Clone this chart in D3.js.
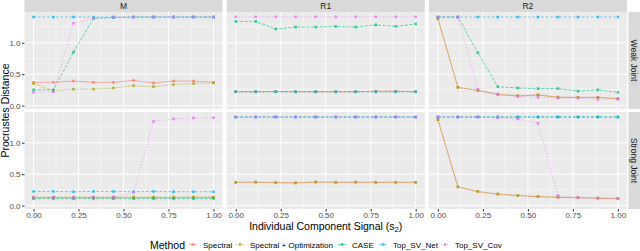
<!DOCTYPE html>
<html>
<head>
<meta charset="utf-8">
<script src="https://cdn.jsdelivr.net/npm/d3@7"></script>
<style>
  body { margin: 0; background: #fff; }
  svg { display: block; font-family: "Liberation Sans", Arial, sans-serif; }
</style>
</head>
<body>
<svg id="chart" width="640" height="251"></svg>
<script>
// data
const signal = [0, 0.111, 0.222, 0.333, 0.444, 0.556, 0.667, 0.778, 0.889, 1]
const methods = ["Spectral", "Spectral + Optimization", "CASE", "Top_SV_Net", "Top_SV_Cov"]
const colors = ["#F8766D", "#A3A500", "#00BF7D", "#00B0F6", "#E76BF3"]
const dashes = ["none", "1.5,1.5", "3,1.5", "2.5,2", "1,2"]
const columns = ["M", "R1", "R2"]
const rows = ["Weak Joint", "Strong Joint"]
const xTicks = [0, 0.25, 0.5, 0.75, 1]
const yTicks = [0, 0.5, 1]

// one array per panel, rows in methods order
const mWeak = [
  [0.37, 0.37, 0.39, 0.37, 0.37, 0.40, 0.36, 0.39, 0.39, 0.37],
  [0.35, 0.235, 0.26, 0.26, 0.28, 0.315, 0.30, 0.335, 0.35, 0.36],
  [0.25, 0.25, 0.85, 1.39, 1.40, 1.41, 1.41, 1.41, 1.41, 1.41],
  [1.41, 1.41, 1.41, 1.41, 1.41, 1.41, 1.41, 1.41, 1.41, 1.41],
  [0.21, 0.22, 1.31, 1.39, 1.41, 1.41, 1.41, 1.41, 1.41, 1.41]
]
const mStrong = [
  [0.125, 0.125, 0.125, 0.125, 0.125, 0.125, 0.125, 0.125, 0.13, 0.13],
  [0.135, 0.135, 0.135, 0.135, 0.135, 0.135, 0.135, 0.135, 0.135, 0.135],
  [0.11, 0.11, 0.11, 0.11, 0.11, 0.11, 0.11, 0.11, 0.11, 0.11],
  [0.225, 0.225, 0.22, 0.225, 0.225, 0.22, 0.225, 0.22, 0.22, 0.22],
  [0.13, 0.13, 0.13, 0.13, 0.13, 0.21, 1.34, 1.38, 1.395, 1.40]
]
const r1Weak = [
  [0.22, 0.22, 0.225, 0.22, 0.22, 0.22, 0.22, 0.23, 0.23, 0.22],
  [0.22, 0.22, 0.22, 0.22, 0.22, 0.22, 0.22, 0.22, 0.22, 0.22],
  [1.34, 1.34, 1.22, 1.25, 1.25, 1.26, 1.25, 1.285, 1.26, 1.30],
  [0.22, 0.22, 0.22, 0.22, 0.22, 0.22, 0.22, 0.22, 0.22, 0.22],
  [1.414, 1.414, 1.414, 1.414, 1.414, 1.414, 1.414, 1.414, 1.414, 1.414]
]
const r1Strong = [
  [0.37, 0.37, 0.365, 0.36, 0.375, 0.37, 0.37, 0.37, 0.37, 0.37],
  [0.37, 0.375, 0.365, 0.36, 0.375, 0.37, 0.375, 0.37, 0.37, 0.37],
  [1.41, 1.41, 1.41, 1.41, 1.41, 1.41, 1.41, 1.41, 1.41, 1.41],
  [1.41, 1.41, 1.41, 1.41, 1.41, 1.41, 1.41, 1.41, 1.41, 1.41],
  [1.41, 1.41, 1.41, 1.41, 1.41, 1.41, 1.41, 1.41, 1.41, 1.41]
]
const r2Weak = [
  [1.39, 0.29, 0.24, 0.18, 0.15, 0.17, 0.13, 0.13, 0.13, 0.11],
  [1.38, 0.29, 0.24, 0.18, 0.16, 0.165, 0.135, 0.13, 0.13, 0.11],
  [1.41, 1.41, 0.84, 0.30, 0.28, 0.27, 0.27, 0.23, 0.25, 0.21],
  [1.41, 1.41, 1.41, 1.41, 1.41, 1.41, 1.41, 1.41, 1.41, 1.41],
  [1.41, 1.41, 0.26, 0.17, 0.145, 0.13, 0.12, 0.115, 0.10, 0.10]
]
const r2Strong = [
  [1.37, 0.295, 0.22, 0.18, 0.16, 0.14, 0.13, 0.125, 0.115, 0.11],
  [1.37, 0.30, 0.225, 0.185, 0.16, 0.145, 0.135, 0.13, 0.12, 0.115],
  [1.41, 1.41, 1.41, 1.41, 1.41, 1.41, 1.41, 1.41, 1.41, 1.41],
  [1.41, 1.41, 1.41, 1.41, 1.41, 1.41, 1.41, 1.41, 1.41, 1.41],
  [1.41, 1.41, 1.41, 1.40, 1.38, 1.31, 0.16, 0.13, 0.12, 0.11]
]
const panels = [[mWeak, r1Weak, r2Weak], [mStrong, r1Strong, r2Strong]]

const svg = d3.select("#chart")

const left = 24.5, panelW = 198, gapX = 4.2
const top0 = 12, panelH = 97, gapY = 3
const stripH = 12, stripW = 11.5

const xScale = d3.scaleLinear().domain([-0.05, 1.05]).range([0, panelW])
const yScale = d3.scaleLinear().domain([-0.055, 1.49]).range([panelH, 0])

const line = d3.line().x((d, i) => xScale(signal[i])).y(d => yScale(d))

// column strips
columns.forEach((c, ci) => {
  const x0 = left + ci * (panelW + gapX)
  svg.append("rect").attr("x", x0).attr("y", 0).attr("width", panelW).attr("height", stripH)
    .attr("fill", "#D9D9D9")
  svg.append("text").attr("x", x0 + panelW / 2).attr("y", stripH / 2 + 3)
    .attr("text-anchor", "middle").attr("font-size", 8.5).attr("fill", "#1A1A1A").text(c)
})

rows.forEach((r, ri) => {
  const y0 = top0 + ri * (panelH + gapY)
  const sx = left + 3 * panelW + 2 * gapX + 1.5
  svg.append("rect").attr("x", sx).attr("y", y0).attr("width", stripW).attr("height", panelH)
    .attr("fill", "#D9D9D9")
  svg.append("text").attr("transform", `translate(${sx + stripW / 2 - 3},${y0 + panelH / 2}) rotate(90)`)
    .attr("text-anchor", "middle").attr("font-size", 8.5).attr("fill", "#1A1A1A").text(r)

  columns.forEach((c, ci) => {
    const x0 = left + ci * (panelW + gapX)
    const g = svg.append("g").attr("transform", `translate(${x0},${y0})`)
    g.append("rect").attr("width", panelW).attr("height", panelH).attr("fill", "#EBEBEB")

    // minor grid
    const xMinor = [0.125, 0.375, 0.625, 0.875]
    const yMinor = [0.25, 0.75, 1.25]
    g.selectAll(".xmin").data(xMinor).enter().append("line")
      .attr("x1", d => xScale(d)).attr("x2", d => xScale(d)).attr("y1", 0).attr("y2", panelH)
      .attr("stroke", "#fff").attr("stroke-width", 0.5)
    g.selectAll(".ymin").data(yMinor).enter().append("line")
      .attr("y1", d => yScale(d)).attr("y2", d => yScale(d)).attr("x1", 0).attr("x2", panelW)
      .attr("stroke", "#fff").attr("stroke-width", 0.5)
    // major grid
    g.selectAll(".xmaj").data(xTicks).enter().append("line")
      .attr("x1", d => xScale(d)).attr("x2", d => xScale(d)).attr("y1", 0).attr("y2", panelH)
      .attr("stroke", "#fff").attr("stroke-width", 1)
    g.selectAll(".ymaj").data(yTicks).enter().append("line")
      .attr("y1", d => yScale(d)).attr("y2", d => yScale(d)).attr("x1", 0).attr("x2", panelW)
      .attr("stroke", "#fff").attr("stroke-width", 1)

    const data = panels[ri][ci]
    data.forEach((vals, mi) => {
      g.append("path").datum(vals).attr("d", line)
        .attr("fill", "none").attr("stroke", colors[mi]).attr("stroke-width", 1)
        .attr("stroke-opacity", 0.6).attr("stroke-dasharray", dashes[mi])
      g.selectAll(".pt" + mi).data(vals).enter().append("rect")
        .attr("x", (d, i) => xScale(signal[i]) - 1.3).attr("y", d => yScale(d) - 1.3)
        .attr("width", 2.6).attr("height", 2.6)
        .attr("fill", colors[mi]).attr("fill-opacity", 0.75)
    })

    if (ci === 0) {
      const yAxis = d3.axisLeft(yScale).tickValues(yTicks).tickFormat(d3.format(".1f"))
        .tickSize(2.5).tickPadding(1.5)
      const ya = g.append("g").call(yAxis)
      ya.select(".domain").remove()
      ya.selectAll(".tick line").attr("stroke", "#333")
      ya.selectAll(".tick text").attr("font-size", 8).attr("fill", "#4D4D4D")
        .attr("font-family", "Liberation Sans, Arial, sans-serif")
    }
    if (ri === 1) {
      const xAxis = d3.axisBottom(xScale).tickValues(xTicks).tickFormat(d3.format(".2f"))
        .tickSize(2.5).tickPadding(1)
      const xa = g.append("g").attr("transform", `translate(0,${panelH})`).call(xAxis)
      xa.select(".domain").remove()
      xa.selectAll(".tick line").attr("stroke", "#333")
      xa.selectAll(".tick text").attr("font-size", 8).attr("fill", "#4D4D4D")
        .attr("font-family", "Liberation Sans, Arial, sans-serif")
    }
  })
})

// axis titles
const plotMid = left + (3 * panelW + 2 * gapX) / 2
svg.append("text").attr("x", plotMid).attr("y", 229.5).attr("text-anchor", "middle")
  .attr("font-size", 10.5).attr("fill", "#000")
  .html('Individual Component Signal (s<tspan font-size="7.5" dy="2.5">2</tspan><tspan dy="-2.5">)</tspan>')
svg.append("text").attr("transform", `translate(9,${top0 + panelH + gapY / 2}) rotate(-90)`)
  .attr("text-anchor", "middle").attr("font-size", 10.5).attr("fill", "#000").text("Procrustes Distance")

// legend
const leg = svg.append("g").attr("transform", "translate(0,244.5)")
leg.append("text").attr("x", 150).attr("y", 4).attr("font-size", 10.5).attr("fill", "#000").text("Method")
const legX = [193, 240, 342, 383, 445]
methods.forEach((m, i) => {
  const x = legX[i]
  leg.append("line").attr("x1", x - 4).attr("x2", x + 4).attr("y1", 0).attr("y2", 0)
    .attr("stroke", colors[i]).attr("stroke-width", 1).attr("stroke-opacity", 0.6)
    .attr("stroke-dasharray", dashes[i])
  leg.append("rect").attr("x", x - 1.3).attr("y", -1.3).attr("width", 2.6).attr("height", 2.6)
    .attr("fill", colors[i]).attr("fill-opacity", 0.75)
  leg.append("text").attr("x", x + 10).attr("y", 3).attr("font-size", 8).attr("fill", "#000").text(m)
})
</script>
</body>
</html>
